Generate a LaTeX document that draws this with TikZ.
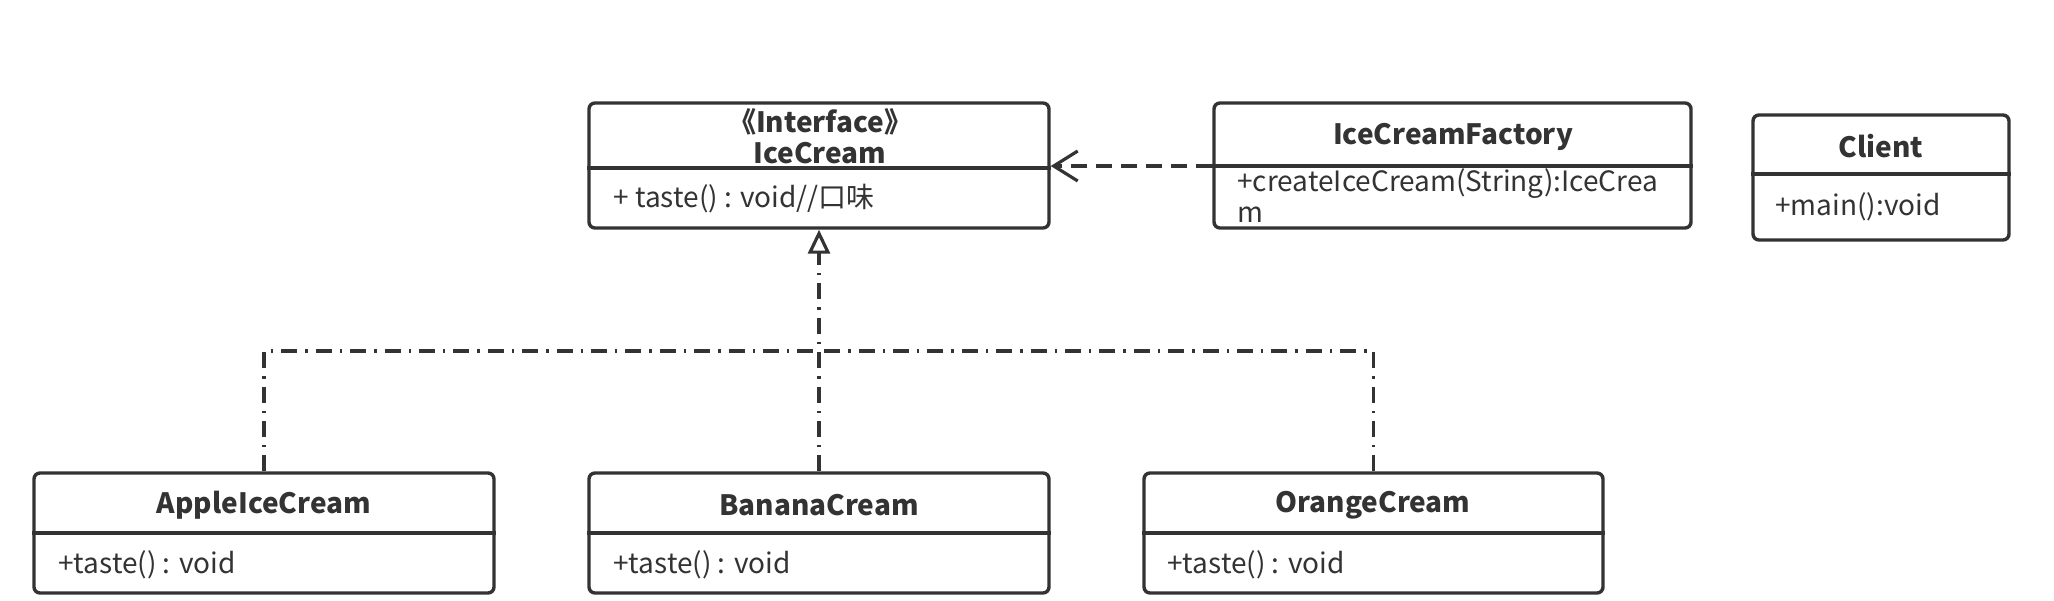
\documentclass[tikz,border=0pt]{standalone}
\usepackage{fontspec}
\setmainfont{Noto Sans CJK SC}
\usetikzlibrary{arrows.meta, positioning, fit}
\definecolor{umlgray}{HTML}{333333}
\tikzset{
  cls/.style={rectangle,draw=umlgray,line width=1.7pt,rounded corners=3pt,inner sep=0pt},
  divider/.style={draw=umlgray,line width=1.7pt},
  title/.style={font=\bfseries\fontsize{14}{15.5}\selectfont,text=umlgray,align=center,inner sep=0pt},
  member/.style={font=\fontsize{14}{15.5}\selectfont,text=umlgray,align=left,anchor=west,inner sep=0pt},
  dep/.style={draw=umlgray,line width=1.6pt,dash pattern=on 8pt off 4.5pt,-{Straight Barb[length=12pt,width=15pt,line width=1.6pt]}},
  real/.style={draw=umlgray,line width=1.6pt,dash pattern=on 8pt off 4pt on 1.2pt off 4pt},
  realtip/.style={-{Triangle[open,length=12pt,width=11pt,line width=1.6pt]}}
}

\begin{document}
\begin{tikzpicture}[x=0.5pt,y=-0.5pt]
\useasboundingbox (0,0) rectangle (2054,600);
% class boxes
\node[cls, fit={(589,103) (1049,228)}] (ice) {};
\node[cls, fit={(1214,103) (1691,228)}] (factory) {};
\node[cls, fit={(1753,115) (2009,240)}] (client) {};
\node[cls, fit={(34,473) (494,593)}] (apple) {};
\node[cls, fit={(589,473) (1049,593)}] (banana) {};
\node[cls, fit={(1144,473) (1603,593)}] (orange) {};
\draw[divider] (ice.west |- 0,168) -- (ice.east |- 0,168);
\draw[divider] (factory.west |- 0,166) -- (factory.east |- 0,166);
\draw[divider] (client.west |- 0,174) -- (client.east |- 0,174);
\draw[divider] (apple.west |- 0,533) -- (apple.east |- 0,533);
\draw[divider] (banana.west |- 0,533) -- (banana.east |- 0,533);
\draw[divider] (orange.west |- 0,533) -- (orange.east |- 0,533);
% titles and members
\node[title] (iceT) at (820,136.5) {《Interface》\\IceCream};
\node[member] (iceM) at (613,199) {+ taste() : void//口味};
\node[title] (factoryT) at (1453,136.5) {IceCreamFactory};
\node[member] (factoryM) at (1237,196) {+createIceCream(String):IceCrea\\m};
\node[title] (clientT) at (1881,146.5) {Client};
\node[member] (clientM) at (1775,207) {+main():void};
\node[title] (appleT) at (264,505.5) {AppleIceCream};
\node[member] (appleM) at (58,565) {+taste() : void};
\node[title] (bananaT) at (819,505.5) {BananaCream};
\node[member] (bananaM) at (613,565) {+taste() : void};
\node[title] (orangeT) at (1373,505.5) {OrangeCream};
\node[member] (orangeM) at (1167,565) {+taste() : void};
% connectors
\coordinate (join) at (819,351);
\draw[dep] (factory.west |- 0,166) -- (ice.east |- 0,166);
\draw[real] (apple.north) |- (join);
\draw[real] (orange.north) |- (join);
\draw[real, realtip] (banana.north) -- (ice.south);
\end{tikzpicture}
\end{document}
